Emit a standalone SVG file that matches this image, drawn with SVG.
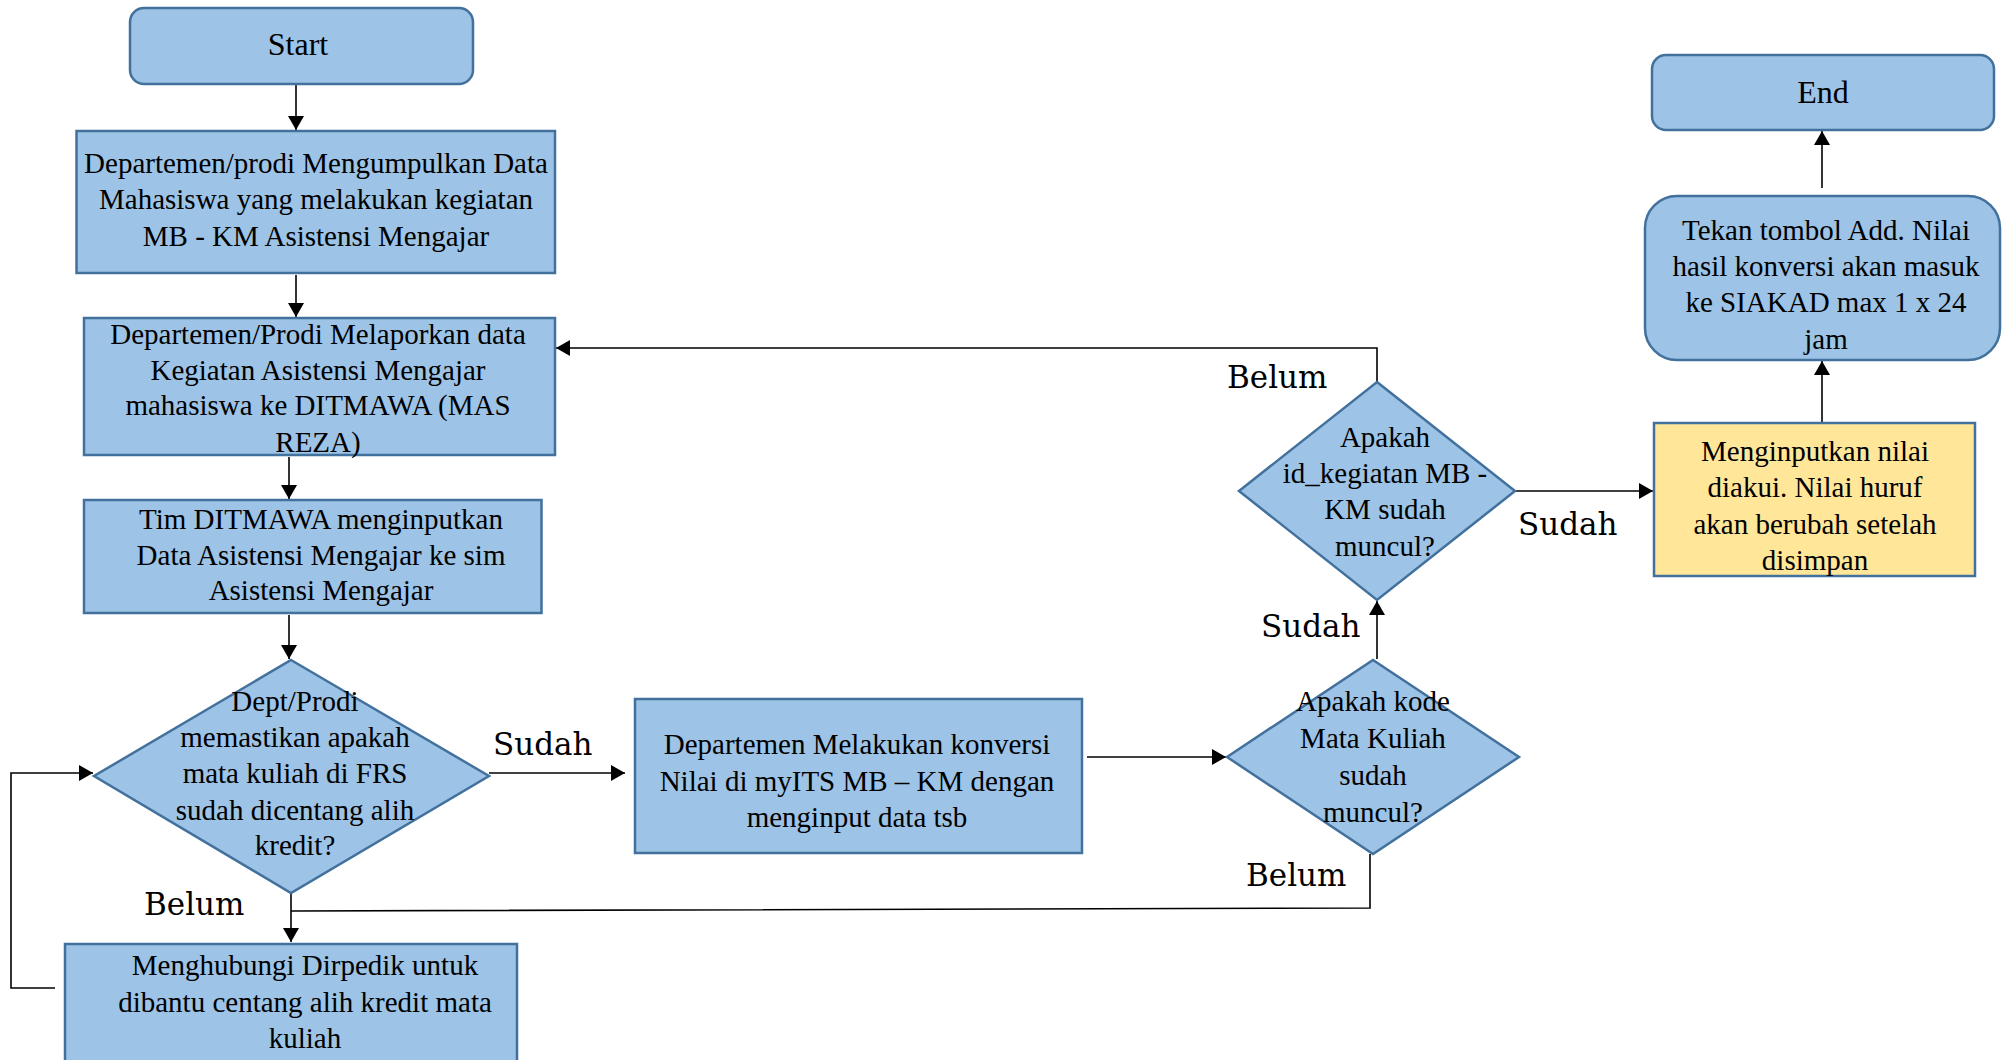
<svg xmlns="http://www.w3.org/2000/svg" width="2006" height="1060" viewBox="0 0 2006 1060">
  <style>
    .box { fill: #9DC3E6; stroke: #41719C; stroke-width: 2.5; }
    .note { fill: #FFE699; stroke: #41719C; stroke-width: 2.5; }
    .t { font-family: 'Liberation Serif', serif; font-size: 29px; fill: #000; text-anchor: middle; }
    .tl { font-family: 'Liberation Serif', serif; font-size: 32px; fill: #000; text-anchor: middle; }
    .lbl { font-family: 'DejaVu Serif', serif; font-size: 31px; fill: #000; }
    .wire { fill: none; stroke: #000; stroke-width: 1.6; }
  </style>
  <defs>
    <marker id="arrow" markerUnits="userSpaceOnUse" markerWidth="15" markerHeight="16" refX="14" refY="8" orient="auto">
      <path d="M0,0 L14,8 L0,16 z" fill="#000"/>
    </marker>
  </defs>

  <rect width="2006" height="1060" fill="#fff"/>

  <!-- connectors and their branch labels -->
  <g id="connectors">
    <path class="wire" d="M296,84 V130" marker-end="url(#arrow)"/>
    <path class="wire" d="M296,275 V317" marker-end="url(#arrow)"/>
    <path class="wire" d="M289,457 V499" marker-end="url(#arrow)"/>
    <path class="wire" d="M289,615 V659" marker-end="url(#arrow)"/>
    <path class="wire" d="M291,893 V942" marker-end="url(#arrow)"/>
    <path class="wire" d="M55,988 H11 V773 H93" marker-end="url(#arrow)"/>
    <path class="wire" d="M489,773 H625" marker-end="url(#arrow)"/>
    <path class="wire" d="M1087,757 H1226" marker-end="url(#arrow)"/>
    <path class="wire" d="M1370,854 V908 L291,911"/>
    <path class="wire" d="M1377,659 V601" marker-end="url(#arrow)"/>
    <path class="wire" d="M1377,382 V348 H556" marker-end="url(#arrow)"/>
    <path class="wire" d="M1515,491 H1653" marker-end="url(#arrow)"/>
    <path class="wire" d="M1822,423 V361" marker-end="url(#arrow)"/>
    <path class="wire" d="M1822,188 V131" marker-end="url(#arrow)"/>

    <text class="lbl" x="493" y="755">Sudah</text>
    <text class="lbl" x="144" y="915">Belum</text>
    <text class="lbl" x="1246" y="886">Belum</text>
    <text class="lbl" x="1227" y="388">Belum</text>
    <text class="lbl" x="1518" y="535">Sudah</text>
    <text class="lbl" x="1261" y="637">Sudah</text>
  </g>

  <g id="start">
    <rect class="box" x="130" y="8" width="343" height="76" rx="14"/>
    <text class="tl" x="298" y="55">Start</text>
  </g>

  <g id="collect-data">
    <rect class="box" x="76.5" y="131" width="478.5" height="142"/>
    <text class="t" x="316" y="173">Departemen/prodi Mengumpulkan Data</text>
    <text class="t" x="316" y="209">Mahasiswa yang melakukan kegiatan</text>
    <text class="t" x="316" y="246">MB - KM Asistensi Mengajar</text>
  </g>

  <g id="report-data">
    <rect class="box" x="84" y="318" width="471" height="137"/>
    <text class="t" x="318" y="344">Departemen/Prodi Melaporkan data</text>
    <text class="t" x="318" y="380">Kegiatan Asistensi Mengajar</text>
    <text class="t" x="318" y="415">mahasiswa ke DITMAWA (MAS</text>
    <text class="t" x="318" y="452">REZA)</text>
  </g>

  <g id="ditmawa-input">
    <rect class="box" x="84" y="500" width="457.5" height="113"/>
    <text class="t" x="321" y="529">Tim DITMAWA menginputkan</text>
    <text class="t" x="321" y="565">Data Asistensi Mengajar ke sim</text>
    <text class="t" x="321" y="600">Asistensi Mengajar</text>
  </g>

  <g id="check-frs">
    <polygon class="box" points="291,660 489,776 291,893 94,776"/>
    <text class="t" x="295" y="711">Dept/Prodi</text>
    <text class="t" x="295" y="747">memastikan apakah</text>
    <text class="t" x="295" y="783">mata kuliah di FRS</text>
    <text class="t" x="295" y="820">sudah dicentang alih</text>
    <text class="t" x="295" y="855">kredit?</text>
  </g>

  <g id="contact-dirpedik">
    <rect class="box" x="65" y="944" width="452" height="130"/>
    <text class="t" x="305" y="975">Menghubungi Dirpedik untuk</text>
    <text class="t" x="305" y="1012">dibantu centang alih kredit mata</text>
    <text class="t" x="305" y="1048">kuliah</text>
  </g>

  <g id="convert-grades">
    <rect class="box" x="635" y="699" width="447" height="154"/>
    <text class="t" x="857" y="754">Departemen Melakukan konversi</text>
    <text class="t" x="857" y="791">Nilai di myITS MB – KM dengan</text>
    <text class="t" x="857" y="827">menginput data tsb</text>
  </g>

  <g id="check-course-code">
    <polygon class="box" points="1373,660 1519,757 1373,854 1227,757"/>
    <text class="t" x="1373" y="711">Apakah kode</text>
    <text class="t" x="1373" y="748">Mata Kuliah</text>
    <text class="t" x="1373" y="785">sudah</text>
    <text class="t" x="1373" y="822">muncul?</text>
  </g>

  <g id="check-activity-id">
    <polygon class="box" points="1377,382 1515,491 1377,600 1239,491"/>
    <text class="t" x="1385" y="447">Apakah</text>
    <text class="t" x="1385" y="483">id_kegiatan MB -</text>
    <text class="t" x="1385" y="519">KM sudah</text>
    <text class="t" x="1385" y="556">muncul?</text>
  </g>

  <g id="input-grade">
    <rect class="note" x="1654" y="423" width="321" height="153"/>
    <text class="t" x="1815" y="461">Menginputkan nilai</text>
    <text class="t" x="1815" y="497">diakui. Nilai huruf</text>
    <text class="t" x="1815" y="534">akan berubah setelah</text>
    <text class="t" x="1815" y="570">disimpan</text>
  </g>

  <g id="press-add">
    <rect class="box" x="1645" y="196" width="355" height="164" rx="32"/>
    <text class="t" x="1826" y="240">Tekan tombol Add. Nilai</text>
    <text class="t" x="1826" y="276">hasil konversi akan masuk</text>
    <text class="t" x="1826" y="312">ke SIAKAD max 1 x 24</text>
    <text class="t" x="1826" y="349">jam</text>
  </g>

  <g id="end">
    <rect class="box" x="1652" y="55" width="342" height="75" rx="14"/>
    <text class="tl" x="1823" y="103">End</text>
  </g>
</svg>
